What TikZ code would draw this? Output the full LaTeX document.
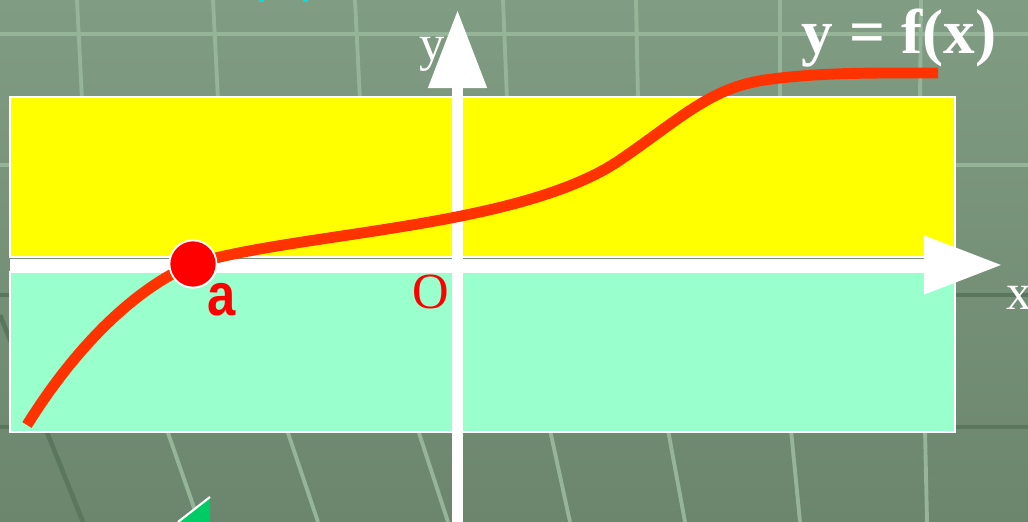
\documentclass[tikz,border=0pt]{standalone}
\usepackage{fontspec}
\setmainfont{Liberation Serif}
\setsansfont{Liberation Sans}
\usetikzlibrary{arrows.meta}
\definecolor{bgtop}{HTML}{809C82}
\definecolor{bgbot}{HTML}{6B866D}
\definecolor{gridlt}{HTML}{96B598}
\definecolor{griddk}{HTML}{5A765C}
\definecolor{bandyel}{HTML}{FFFF00}
\definecolor{bandmint}{HTML}{99FFCC}
\definecolor{curvered}{HTML}{FF3300}
\definecolor{trigreen}{HTML}{00CC66}
\definecolor{cyanbit}{HTML}{00E0E0}
\begin{document}
\begin{tikzpicture}[
            x=0.01cm, y=-0.01cm,
            gridlt/.style={draw=gridlt, line width=1.1pt},
            griddk/.style={draw=griddk, line width=1.3pt},
            band/.style={draw=white, line width=0.6pt},
            axisline/.style={draw=white, line width=3.3pt, -{Triangle[width=15.9pt, length=22.2pt]}},
            fcurve/.style={draw=curvered, line width=3.1pt},
            pt/.style={circle, fill=red, draw=white, line width=0.5pt, minimum size=13.4pt, inner sep=0pt},
            lbl/.style={text=white, font=\fontsize{14.4pt}{17pt}\selectfont, anchor=base, inner sep=0pt}
          ]
          \useasboundingbox (0,0) rectangle (1028,522);
          \shade[top color=bgtop, bottom color=bgbot] (0,0) rectangle (1028,522);
          % background grid
          \foreach \y in {34,165} { \draw[gridlt] (0,\y) -- (1028,\y); }
          \foreach \y in {295,427} { \draw[griddk] (0,\y) -- (1028,\y); }
          \foreach \a/\b in {77/82,213/218,355/360,503/507,636/638,780/780,921/920} {
            \draw[gridlt] (\a,0) -- (\b,100);
          }
          \foreach \a/\b in {167/199,287/318,418/448,550/570,668/685,791/800,925/927} {
            \draw[gridlt] (\a,430) -- (\b,522);
          }
          \draw[griddk] (0,315) -- (83,522);
          \fill[cyanbit] (259,0) rectangle (264,2);
          \fill[cyanbit] (303,0) rectangle (308,2);
          % bands
          \filldraw[band, fill=bandyel] (10,97) rectangle (955,257);
          \filldraw[band, fill=bandmint] (10,272) rectangle (955,432);
          % axes
          \coordinate (xs) at (10,265);
          \coordinate (xe) at (1002,265);
          \coordinate (ys) at (457.5,530);
          \coordinate (ye) at (457.5,10);
          \draw[axisline] (xs) -- (xe);
          \draw[axisline] (ys) -- (ye);
          \node[lbl] (ylab) at (432,61) {y};
          \node[lbl] (xlab) at (1019,310) {x};
          \node[lbl, text=red] (orig) at (431,309) {O};
          % curve
          \node[pt] (pa) at (193,264) {};
          \coordinate (c0) at (27,425);
          \coordinate (c1) at (620,160);
          \coordinate (c2) at (765,80);
          \coordinate (c3) at (938,73);
          \draw[fcurve] (c0) .. controls (80,340) and (140,286) .. (pa.center)
            .. controls (300,232) and (520,228) .. (c1)
            .. controls (680,119) and (710,88) .. (c2)
            .. controls (820,72) and (880,73) .. (c3);
          \node[pt] (pa) at (193,264) {};
          \node[lbl, text=red, font=\sffamily\bfseries\fontsize{17pt}{20pt}\selectfont, xscale=0.85] (alab) at (222,316) {a};
          \node[lbl, font=\bfseries\fontsize{18pt}{21pt}\selectfont] (flab) at (899,54) {y = f(x)};
          % corner triangle
          \fill[trigreen] (178,522) -- (210,497) -- (210,522) -- cycle;
          \draw[white, line width=0.6pt] (178,522) -- (210,497);
        \end{tikzpicture}
\end{document}
